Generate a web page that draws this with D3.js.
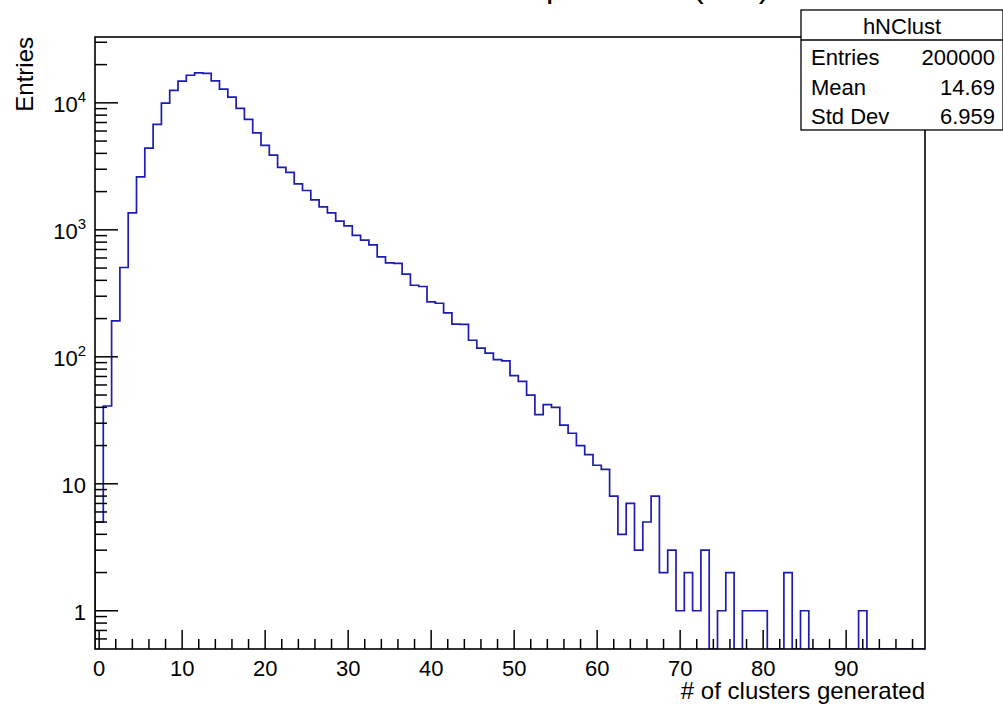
<!DOCTYPE html>
<html><head><meta charset="utf-8">
<script src="https://cdn.jsdelivr.net/npm/d3@7"></script>
<style>
body{margin:0;background:#fff;}
svg{display:block;font-family:"Liberation Sans",Arial,Helvetica,sans-serif;}
</style>
</head><body>
<svg id="c" width="1003" height="704"></svg>
<script>
// ---- data ----
const binCenters = d3.range(0, 100);
const entries = [
  5, 41, 192, 505, 1360, 2610, 4400, 6760, 9950, 12520,
  14820, 16500, 17200, 17060, 14900, 12820, 11090, 9040, 7400, 5810,
  4620, 3870, 3100, 2830, 2300, 2040, 1720, 1517, 1360, 1170,
  1074, 903, 829, 761, 612, 549, 545, 448, 366, 358,
  271, 264, 222, 181, 180, 135, 117, 107, 95, 93,
  71, 64, 50, 35, 42, 40, 29, 25, 20, 17,
  14, 13, 8, 4, 7, 3, 5, 8, 2, 3,
  1, 2, 1, 3, 0, 1, 2, 0, 1, 1,
  1, 0, 0, 2, 0, 1, 0, 0, 0, 0,
  0, 0, 1, 0, 0, 0, 0, 0, 0, 0
];
const xMajorTicks = [0, 10, 20, 30, 40, 50, 60, 70, 80, 90];
const xTickLabels = ["0", "10", "20", "30", "40", "50", "60", "70", "80", "90"];
const yMajorTicks = [1, 10, 100, 1000, 10000];
const yTickBase = ["1", "10", "10", "10", "10"];
const yTickExp = ["", "", "2", "3", "4"];
const statsLabels = ["Entries", "Mean", "Std Dev"];
const statsValues = ["200000", "14.69", "6.959"];
const histName = "hNClust";
const xTitle = "# of clusters generated";
const yTitle = "Entries";
const plotTitle = "Number of clusters per event (a.u.)";

// ---- layout ----
const L = 95, R = 925, T = 37, B = 649;
const svg = d3.select("#c");
const x = d3.scaleLinear().domain([-0.5, 99.5]).range([L, R]);
const y = d3.scaleLog().domain([0.5, 33000]).range([B, T]);
const ymin = y.domain()[0];

// title (almost entirely above the picture)
const tt = svg.append("text").attr("y", -3).attr("font-size", 33).attr("fill", "#000").text(plotTitle);
const pIdx = plotTitle.indexOf("per");
const off = tt.node().getSubStringLength(0, pIdx);
tt.attr("x", 546 - off);

// histogram outline
const pts = [[-0.5, ymin]];
binCenters.forEach((c, i) => {
  const v = entries[i] > 0 ? entries[i] : ymin;
  pts.push([c - 0.5, v]);
  pts.push([c + 0.5, v]);
});
pts.push([99.5, ymin]);
svg.append("defs").append("clipPath").attr("id", "clip")
  .append("rect").attr("x", L).attr("y", T).attr("width", R - L).attr("height", B - T);
svg.append("path")
  .attr("clip-path", "url(#clip)")
  .attr("d", d3.line().x(d => x(d[0])).y(d => y(d[1]))(pts))
  .attr("fill", "none").attr("stroke", "#1c1cb0").attr("stroke-width", 1.7);

// frame
svg.append("rect").attr("x", L).attr("y", T).attr("width", R - L).attr("height", B - T)
  .attr("fill", "none").attr("stroke", "#000").attr("stroke-width", 1.6);

// x axis ticks
const xMinor = d3.range(0, 100, 2).filter(v => v % 10 !== 0);
const gx = svg.append("g").attr("stroke", "#000").attr("stroke-width", 1.5);
gx.selectAll("line.maj").data(xMajorTicks).join("line")
  .attr("x1", d => x(d)).attr("x2", d => x(d)).attr("y1", B).attr("y2", B - 19);
gx.selectAll("line.min").data(xMinor).join("line")
  .attr("x1", d => x(d)).attr("x2", d => x(d)).attr("y1", B).attr("y2", B - 10);
svg.append("g").selectAll("text").data(xMajorTicks).join("text")
  .attr("x", d => x(d)).attr("y", 676).attr("text-anchor", "middle")
  .attr("font-size", 22).text((d, i) => xTickLabels[i]);

// y axis ticks
const yMinor = [];
[0.1, 1, 10, 100, 1000, 10000].forEach(dec => {
  for (let k = 2; k <= 9; k++) {
    const v = dec * k;
    if (v > ymin && v < y.domain()[1]) yMinor.push(v);
  }
});
const gy = svg.append("g").attr("stroke", "#000").attr("stroke-width", 1.5);
gy.selectAll("line.maj").data(yMajorTicks).join("line")
  .attr("x1", L).attr("x2", L + 23).attr("y1", d => y(d)).attr("y2", d => y(d));
gy.selectAll("line.min").data(yMinor).join("line")
  .attr("x1", L).attr("x2", L + 12).attr("y1", d => y(d)).attr("y2", d => y(d));
const yl = svg.append("g").selectAll("text").data(yMajorTicks).join("text")
  .attr("x", 86).attr("y", d => y(d) + 9).attr("text-anchor", "end").attr("font-size", 22);
yl.append("tspan").text((d, i) => yTickBase[i]);
yl.append("tspan").attr("dy", -10).attr("font-size", 15).text((d, i) => yTickExp[i]);

// axis titles
svg.append("text").attr("x", R).attr("y", 699).attr("text-anchor", "end")
  .attr("font-size", 24).text(xTitle);
svg.append("text").attr("transform", `translate(33,${T}) rotate(-90)`)
  .attr("text-anchor", "end").attr("font-size", 24).text(yTitle);

// stats box
const sx = 801, sy = 10, sw = 202, sh = 120;
svg.append("rect").attr("x", sx).attr("y", sy).attr("width", sw).attr("height", sh)
  .attr("fill", "#fff").attr("stroke", "#000").attr("stroke-width", 1.3);
svg.append("line").attr("x1", sx).attr("x2", sx + sw).attr("y1", 40).attr("y2", 40)
  .attr("stroke", "#000").attr("stroke-width", 1.3);
svg.append("text").attr("x", sx + sw / 2).attr("y", 34).attr("text-anchor", "middle")
  .attr("font-size", 22).text(histName);
const rowY = [65, 95, 124];
svg.append("g").selectAll("text").data(statsLabels).join("text")
  .attr("x", 811).attr("y", (d, i) => rowY[i]).attr("font-size", 22).text(d => d);
svg.append("g").selectAll("text").data(statsValues).join("text")
  .attr("x", 995).attr("y", (d, i) => rowY[i]).attr("text-anchor", "end").attr("font-size", 22).text(d => d);
</script>
</body></html>
